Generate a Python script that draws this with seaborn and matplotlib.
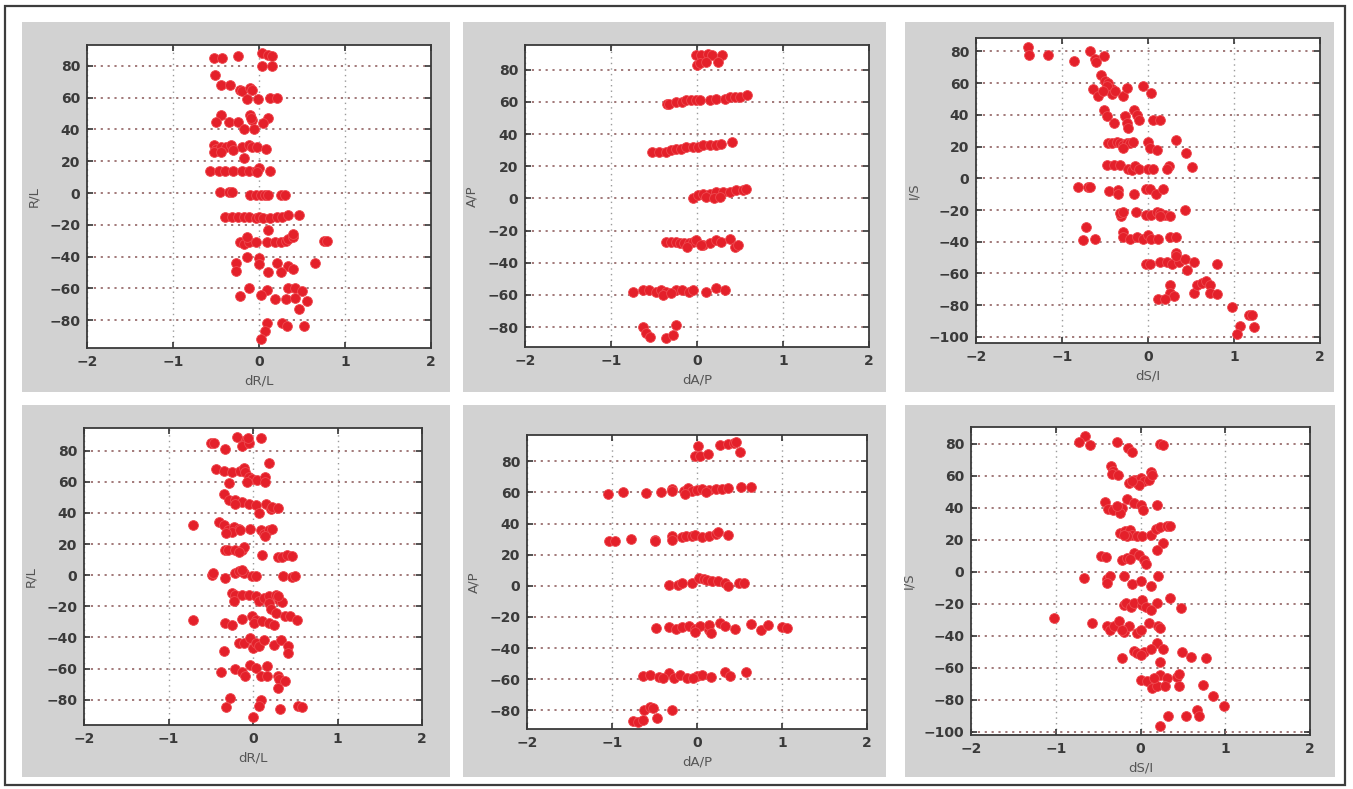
import matplotlib
matplotlib.use("Agg")
import matplotlib.pyplot as plt
from matplotlib.patches import Rectangle
import seaborn as sns

# ---------------- data ----------------
# Panel 1 (top-left): dR/L vs R/L
p1_x = [-0.52, -0.43, -0.24, 0.04, 0.1, 0.15, 0.04, 0.15,
        -0.51, -0.44, -0.34, -0.22, -0.2, -0.1, -0.08, -0.14, -0.01, 0.13, 0.21,
        -0.44, -0.1, 0.11, -0.5, -0.35, -0.24, -0.08, 0.05, -0.18, -0.06, -0.09,
        -0.52, -0.5, -0.44, -0.38, -0.32, -0.2, -0.12, -0.08, -0.02, 0.08, -0.52, -0.44, -0.3, -0.18,
        -0.57, -0.47, -0.39, -0.3, -0.2, -0.12, -0.04, 0.0, 0.13, -0.02,
        -0.45, -0.35, -0.31, -0.1, -0.04, 0.02, 0.07, 0.11, 0.25, 0.3,
        -0.39, -0.31, -0.24, -0.18, -0.12, -0.04, 0.0, 0.05, 0.13, 0.21, 0.27, 0.34, 0.46, 0.11,
        -0.22, -0.18, -0.12, -0.04, 0.09, 0.19, 0.25, 0.31, 0.34, 0.4, -0.14, 0.4, 0.75, 0.79,
        -0.14, 0.0, -0.27, -0.27, 0.0, 0.21, 0.34, 0.4, 0.65, 0.1, 0.25,
        -0.12, -0.22, 0.09, 0.02, 0.19, 0.31, 0.34, 0.42, 0.42, 0.5, 0.56, 0.46,
        0.27, 0.32, 0.52, 0.09, 0.07, 0.02]
p1_y = [85, 85, 86, 88, 87, 86, 80, 80,
        74, 68, 68, 65, 64, 66, 65, 59, 59, 60, 60,
        49, 49, 47, 45, 45, 45, 46, 44, 40, 40, 47,
        30, 28, 29, 29, 30, 29, 30, 29, 29, 28, 26, 26, 27, 22,
        14, 14, 14, 14, 14, 14, 14, 16, 14, 13,
        0.5, 0.5, 0.5, -1, -1, -1, -1, -1, -1, -1,
        -15, -15, -15, -15, -15, -16, -15, -16, -16, -15, -15, -14, -14, -23,
        -31, -32, -31, -31, -31, -31, -31, -30, -29, -28, -28, -26, -30, -30,
        -40, -41, -44, -49, -45, -44, -46, -48, -44, -50, -50,
        -60, -65, -61, -64, -67, -67, -60, -60, -66, -62, -68, -73,
        -82, -84, -84, -82, -87, -92]

# Panel 2 (top-middle): dA/P vs A/P
p2_x = [-0.01, 0.05, 0.13, 0.17, 0.29, 0.0, 0.04, 0.1, 0.24,
        -0.35, -0.32, -0.24, -0.18, -0.13, -0.07, -0.01, 0.04, 0.15, 0.22, 0.32, 0.38, 0.44, 0.5, 0.58,
        -0.52, -0.44, -0.36, -0.3, -0.24, -0.19, -0.13, -0.05, 0.01, 0.07, 0.15, 0.22, 0.28, 0.41,
        -0.05, 0.01, 0.07, 0.15, 0.22, 0.3, 0.38, 0.45, 0.53, 0.57, 0.1, 0.2, 0.27,
        -0.36, -0.3, -0.24, -0.2, -0.15, -0.09, -0.05, -0.01, 0.07, 0.15, 0.22, 0.28, 0.38, 0.44, 0.48, -0.12, 0.05,
        -0.75, -0.63, -0.56, -0.48, -0.42, -0.36, -0.25, -0.17, -0.09, -0.05, 0.11, 0.22, 0.32, -0.4, -0.3,
        -0.63, -0.59, -0.55, -0.36, -0.28, -0.24]
p2_y = [89, 89, 90, 89, 89, 83, 84, 85, 85,
        59, 59, 60, 60, 61, 61, 61, 61, 61, 62, 62, 63, 63, 63, 64,
        29, 29, 29, 30, 31, 31, 32, 32, 32, 33, 33, 33, 34, 35,
        0, 2, 3, 3, 4, 4, 4, 5, 5, 6, 1, 0, 1,
        -27, -27, -27, -28, -28, -28, -27, -26, -29, -28, -26, -27, -25, -30, -29, -30, -29,
        -58, -57, -57, -58, -57, -58, -57, -57, -58, -57, -58, -56, -57, -60, -59,
        -80, -84, -86, -87, -85, -79]

# Panel 3 (top-right): dS/I vs I/S
p3_x = [-1.4, -1.38, -1.16, -0.86, -0.68, -0.62, -0.6, -0.51,
        -0.55, -0.5, -0.46, -0.44, -0.42, -0.48, -0.42, -0.64, -0.58, -0.29, -0.24, -0.06, 0.04, -0.38, -0.52,
        -0.51, -0.48, -0.4, -0.27, -0.24, -0.23, -0.16, -0.13, -0.11, 0.06, 0.14,
        -0.47, -0.42, -0.36, -0.32, -0.29, -0.25, -0.21, -0.17, -0.29, 0.0, 0.02, 0.1, 0.32, 0.44,
        -0.48, -0.4, -0.33, -0.23, -0.19, -0.15, -0.11, 0.0, 0.06, 0.24, 0.22, 0.51,
        -0.81, -0.7, -0.68, -0.45, -0.35, -0.35, -0.16, -0.02, 0.02, 0.09, 0.18,
        -0.31, -0.33, -0.29, -0.14, -0.02, 0.04, 0.1, 0.14, 0.2, 0.26, 0.14, 0.43,
        -0.72, -0.76, -0.62, -0.29, -0.29, -0.21, -0.13, -0.06, 0.0, 0.04, 0.12, 0.26, 0.32,
        -0.02, 0.02, 0.14, 0.22, 0.28, 0.32, 0.36, 0.32, 0.43, 0.53, 0.45, 0.8,
        0.26, 0.26, 0.3, 0.12, 0.2, 0.53, 0.57, 0.63, 0.68, 0.72, 0.72, 0.8,
        0.98, 1.17, 1.21, 1.07, 1.23, 1.03]
p3_y = [83, 77.5, 78, 74, 80, 75, 73, 77,
        65, 61, 60, 57, 56, 58, 53, 56, 52, 52, 57, 58, 54, 55, 55,
        43, 39, 35, 39, 35, 32, 43, 40, 37, 37, 37,
        22, 22, 23, 22, 21, 22, 22, 23, 19, 23, 19, 18, 24, 16,
        8.6, 8.6, 8.6, 6, 5, 8, 6, 6, 6, 8, 6, 7,
        -5.5, -5.5, -5.5, -8, -7.5, -10, -10, -6.5, -7, -10, -6.5,
        -24, -22, -21, -21, -23, -23, -21, -22, -23, -24, -24, -20,
        -31, -39, -38, -34, -37, -38, -37, -38, -36, -38, -38, -37, -37,
        -54, -54, -53, -53, -54, -47, -53, -49, -51, -53, -58, -54,
        -67, -72, -74, -76, -76, -72, -67, -66, -65, -67, -72, -73,
        -81, -86, -86, -93, -94, -98]

# Panel 4 (bottom-left): dR/L vs R/L
p4_x = [-0.5, -0.46, -0.19, -0.08, -0.11, -0.13, -0.05, -0.06, 0.1, -0.33,
        -0.44, -0.34, -0.25, -0.15, -0.11, -0.09, -0.05, -0.01, 0.05, 0.14, 0.14, 0.19, -0.28, -0.07,
        -0.34, -0.28, -0.21, -0.13, -0.05, 0.03, 0.15, 0.21, 0.23, 0.29, 0.07, -0.21,
        -0.71, -0.4, -0.34, -0.29, -0.23, -0.17, -0.25, -0.15, -0.03, 0.09, 0.13, 0.19, 0.23, 0.14, -0.32,
        -0.33, -0.29, -0.21, -0.13, -0.11, -0.17, 0.11, 0.29, 0.34, 0.4, 0.46,
        -0.49, -0.47, -0.33, -0.21, -0.17, -0.11, -0.01, 0.03, 0.35, 0.46, 0.5, -0.13,
        -0.25, -0.21, -0.13, -0.05, 0.03, 0.07, 0.13, 0.19, 0.27, 0.31, 0.34, 0.19, 0.3, -0.23, 0.21,
        -0.71, -0.33, -0.25, -0.13, -0.01, 0.03, 0.01, 0.11, 0.19, 0.27, 0.38, 0.44, 0.52, 0.25,
        -0.34, -0.16, -0.11, -0.03, 0.0, 0.03, 0.07, 0.13, 0.25, 0.33, 0.42, 0.42,
        -0.38, -0.21, -0.13, -0.1, -0.03, 0.03, 0.09, 0.17, 0.17, 0.29, 0.31, 0.38, 0.29,
        -0.27, -0.32, 0.09, 0.07, 0.32, 0.53, 0.58, 0.0]
p4_y = [85, 85, 89, 87, 84, 83, 85, 88, 88, 81,
        68, 67, 66, 67, 69, 66, 63, 62, 61, 63, 60, 72, 59, 60,
        52, 48.5, 48.5, 47, 46, 45, 46, 42.5, 44, 43.5, 40, 46,
        32, 34, 32.5, 29, 31, 30, 28, 29, 29.5, 29, 26.5, 29, 29.5, 25, 27,
        16.4, 16.4, 16.4, 16.4, 18, 15, 13, 12, 12, 13, 12.5,
        0.3, 1.4, -1.8, 1.4, 2.5, 1.4, -0.7, -0.7, -0.3, -1.2, -0.7, 3.5,
        -11.5, -13, -12.5, -12.5, -13.6, -16.8, -14.7, -13.6, -12.5, -15.7, -17.5, -17.9, -13.6, -16.8, -22,
        -28.6, -30.7, -31.8, -28.2, -26.5, -28.6, -30.7, -29.7, -30.7, -24.3, -26.5, -26.5, -28.6, -31.8,
        -49, -43.6, -43.6, -40.4, -46.8, -43.6, -45.7, -41.4, -44.7, -41.9, -45.7, -50,
        -62.4, -60.3, -62.4, -65, -57.5, -59.6, -65, -58.6, -65, -65, -67, -68.2, -72.5,
        -79, -85, -80, -84, -86, -84, -85, -91]

# Panel 5 (bottom-middle): dA/P vs A/P
p5_x = [0.01, -0.02, 0.04, 0.13, 0.27, 0.37, 0.43, 0.46, 0.5,
        -1.05, -0.87, -0.6, -0.42, -0.29, -0.29, -0.15, -0.11, -0.06, 0.0, 0.06, 0.14, 0.22, 0.29, 0.37, 0.52, 0.63, -0.14, 0.1,
        -1.03, -0.96, -0.78, -0.5, -0.49, -0.3, -0.29, -0.18, -0.13, -0.06, -0.02, 0.06, 0.14, 0.22, 0.25, 0.36,
        -0.33, -0.22, -0.18, -0.06, 0.02, 0.08, 0.12, 0.18, 0.25, 0.33, 0.37, 0.49, 0.55,
        -0.48, -0.33, -0.25, -0.18, -0.1, -0.02, 0.04, 0.14, 0.14, 0.27, 0.33, 0.45, 0.63, 0.75, 0.84, 1.0, 1.06, 0.16, -0.02,
        -0.63, -0.55, -0.45, -0.33, -0.27, -0.2, -0.12, 0.0, 0.06, 0.16, 0.33, 0.39, 0.58, -0.4, -0.05,
        -0.62, -0.55, -0.52, -0.3, -0.75, -0.69, -0.63, -0.47]
p5_y = [90, 83.6, 83.6, 85, 90.7, 91.3, 91.8, 92.2, 86.2,
        59, 60, 59.6, 60, 62, 60.7, 60.7, 62.7, 61.2, 61.6, 62, 61.6, 62, 62, 62.7, 63.7, 63.7, 59, 60,
        29, 29, 30, 29.7, 28.6, 31.8, 29.7, 31.2, 32.2, 32.2, 32.9, 31.2, 31.8, 33.3, 34.4, 32.9,
        0.7, 0.5, 1.8, 1.8, 5, 4.4, 4, 2.9, 2.9, 1.8, -0.3, 1.8, 1.8,
        -27, -26.5, -27.9, -26.5, -25.6, -27.9, -26, -28.2, -25, -24, -25.6, -27.9, -24.3, -28.2, -25.4, -26.5, -27, -30.3, -29.9,
        -57.7, -57.1, -58.6, -56, -59.2, -57.1, -59.2, -58.1, -57.1, -58.6, -55.6, -57.7, -55.6, -59.5, -59.5,
        -80, -78, -78.5, -80, -87, -87.5, -86.5, -85]

# Panel 6 (bottom-right): dS/I vs I/S
p6_x = [-0.65, -0.73, -0.6, -0.28, -0.15, -0.1, 0.23, 0.27,
        -0.35, -0.32, -0.34, -0.26, -0.14, -0.08, -0.04, 0.0, 0.04, -0.02, 0.1, 0.12, 0.14, -0.1,
        -0.42, -0.38, -0.32, -0.22, -0.24, -0.16, -0.08, 0.01, 0.03, 0.19, -0.28,
        -0.24, -0.18, -0.12, -0.1, -0.04, 0.02, 0.12, 0.18, 0.23, 0.31, 0.35, 0.27, -0.16, -0.2,
        -0.47, -0.41, -0.22, -0.16, -0.08, -0.02, 0.04, 0.07, 0.2, -0.12,
        -0.67, -0.4, -0.36, -0.4, -0.2, -0.1, 0.0, 0.12, 0.21,
        -0.2, -0.17, -0.11, -0.08, 0.02, 0.02, 0.06, 0.2, 0.35, 0.48, 0.12,
        -1.02, -0.57, -0.4, -0.36, -0.31, -0.25, -0.2, -0.14, -0.04, 0.0, 0.1, 0.21, 0.23, -0.22,
        0.2, -0.22, -0.08, -0.04, 0.04, 0.12, 0.27, 0.49, 0.6, 0.77, 0.23, 0.0,
        0.0, 0.08, 0.14, 0.2, 0.23, 0.31, 0.43, 0.45, 0.45, 0.74, 0.85, 0.99, 0.16, 0.29,
        0.67, 0.69, 0.54, 0.32, 0.23]
p6_y = [85, 81, 79, 81, 77, 75, 80, 79,
        65.9, 62.7, 61.3, 60.7, 55.5, 57.5, 55.5, 58.6, 56.5, 54.4, 57.5, 62.1, 60.7, 56.5,
        43.4, 39.2, 38.8, 39.8, 36.7, 45.5, 43, 41.9, 38.8, 41.5, 40.9,
        24.2, 25.3, 26.3, 23.2, 22.2, 22.6, 23.2, 26.7, 28, 28.4, 28.4, 18, 22.2, 23.2,
        10, 9, 7.6, 8.6, 11.8, 10.7, 7.6, 5.1, 13.9, 8,
        -3.8, -4.5, -2.8, -7, -2.8, -7.6, -5.9, -8.6, -2.4,
        -20.5, -19.5, -22, -19.5, -20.5, -17.4, -22, -19.5, -16.3, -22.6, -23.6,
        -28.8, -31.9, -33.6, -36.1, -33.6, -30.9, -37.8, -33.6, -38.2, -36.1, -31.9, -34, -35, -36.1,
        -44.4, -53.8, -49.6, -51, -50.2, -48.5, -48.1, -49.8, -53.2, -53.8, -56.5, -51.7,
        -67.3, -68.4, -72.5, -71.5, -64.2, -66.3, -65.6, -63.6, -71.5, -70.4, -77.7, -83.5, -66.3, -71.5,
        -86, -90, -90, -90, -96]

x_labels = ["dR/L", "dA/P", "dS/I", "dR/L", "dA/P", "dS/I"]
y_labels = ["R/L", "A/P", "I/S", "R/L", "A/P", "I/S"]
x_ticks = [-2, -1, 0, 1, 2]
y_ticks_a = [-80, -60, -40, -20, 0, 20, 40, 60, 80]
y_ticks_b = [-100, -80, -60, -40, -20, 0, 20, 40, 60, 80]

# ---------------- layout ----------------
W, H = 1353, 789
fig = plt.figure(figsize=(W / 100, H / 100), dpi=100, facecolor="white")

def fx(px):
    return px / W

def fy(py):
    return 1 - py / H

# outer frame
fig.patches.append(Rectangle((fx(5), fy(785)), fx(1345) - fx(5), fy(6) - fy(785),
                             transform=fig.transFigure, fill=False,
                             edgecolor="#3c3c3c", linewidth=1.6, zorder=-2))

gray_boxes = [(22, 22, 450, 392), (463, 22, 886, 392), (905, 22, 1334, 392),
              (22, 405, 450, 777), (463, 405, 886, 777), (905, 405, 1335, 777)]
for (l, t, r, b) in gray_boxes:
    fig.patches.append(Rectangle((fx(l), fy(b)), fx(r) - fx(l), fy(t) - fy(b),
                                 transform=fig.transFigure, facecolor="#d2d2d2",
                                 edgecolor="none", zorder=-2))

axes_px = [(87, 45, 431, 348), (525, 45, 869, 347), (976, 38, 1320, 343),
           (84, 428, 422, 725), (527, 435, 867, 729), (971, 427, 1310, 735)]
ylims = [(-97.6, 93.2), (-92.4, 95.4), (-103.8, 88.4),
         (-96.3, 94.6), (-92.0, 96.9), (-101.9, 90.4)]

data = [(p1_x, p1_y), (p2_x, p2_y), (p3_x, p3_y),
        (p4_x, p4_y), (p5_x, p5_y), (p6_x, p6_y)]

for i, ((l, t, r, b), (xs, ys)) in enumerate(zip(axes_px, data)):
    ax = fig.add_axes([fx(l), fy(b), fx(r) - fx(l), fy(t) - fy(b)])
    ax.set_zorder(5)
    ax.set_facecolor("white")
    ax.set_axisbelow(True)
    ax.grid(True, axis="y", linestyle=(0, (1.2, 2.6)), color="#9a6e6e", linewidth=1.3)
    ax.grid(True, axis="x", linestyle=(0, (1, 3)), color="#9a9a9a", linewidth=1.0)
    sns.scatterplot(x=xs, y=ys, ax=ax, color="#e4202a", s=50,
                    edgecolor="#ee4a50", linewidth=0.6, zorder=3, legend=False)
    yt = y_ticks_b if i in (2, 5) else y_ticks_a
    ax.set_xlim(-2, 2)
    ax.set_ylim(*ylims[i])
    ax.set_xticks(x_ticks)
    ax.set_yticks(yt)
    ax.set_xticklabels([str(v).replace("-", "\u2212") for v in x_ticks])
    ax.set_yticklabels([str(v).replace("-", "\u2212") for v in yt])
    ax.tick_params(direction="in", length=4, width=1.2, color="#333333",
                   top=True, right=True, labelsize=10, labelcolor="#3a3a3a", pad=5)
    for lab in ax.get_xticklabels() + ax.get_yticklabels():
        lab.set_fontweight("bold")
    for sp in ax.spines.values():
        sp.set_color("#3a3a3a")
        sp.set_linewidth(1.3)
    ax.set_xlabel(x_labels[i], fontsize=9.5, color="#555555", labelpad=4)
    ax.set_ylabel(y_labels[i], fontsize=9.5, color="#555555", labelpad=6)

fig.savefig("out.png", dpi=100, facecolor="white")
